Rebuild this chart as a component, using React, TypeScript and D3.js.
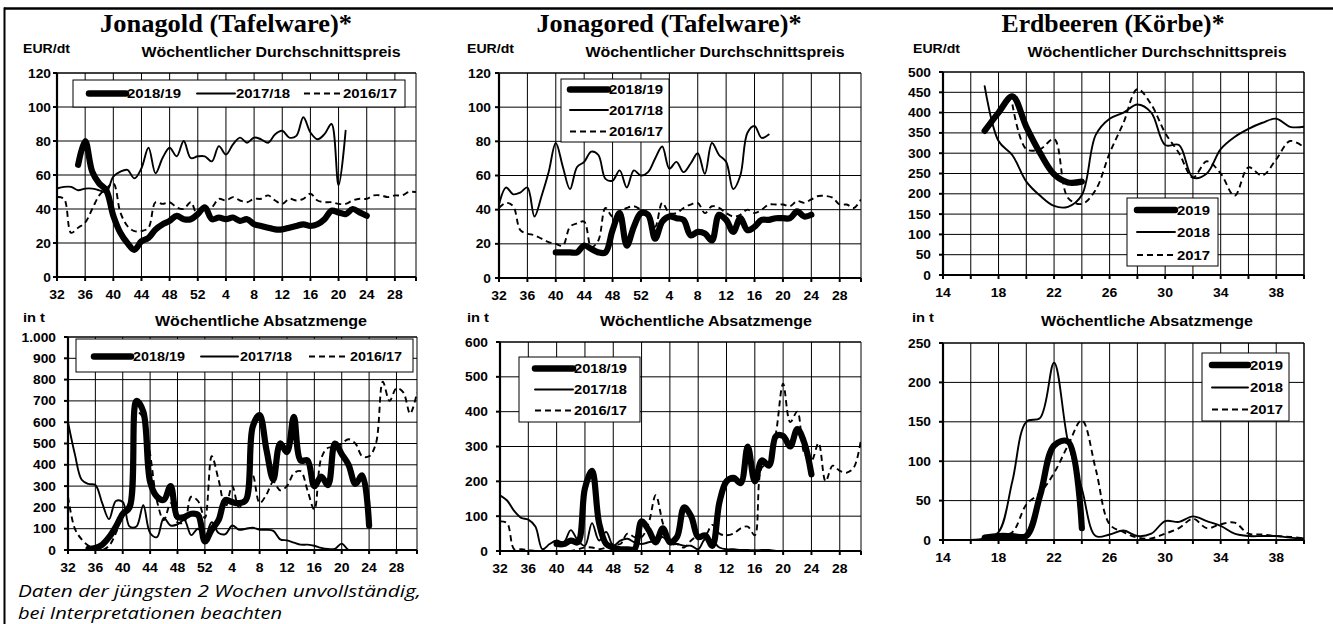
import React from 'react';
import * as d3 from 'd3';

const N = null;

// ---------- categories ----------
const appleWeeks = [32, 33, 34, 35, 36, 37, 38, 39, 40, 41, 42, 43, 44, 45, 46, 47, 48, 49, 50, 51, 52,
  1, 2, 3, 4, 5, 6, 7, 8, 9, 10, 11, 12, 13, 14, 15, 16, 17, 18, 19, 20, 21, 22, 23, 24, 25, 26, 27, 28, 29, 30, 31];
const appleTickLabels = ['32', '36', '40', '44', '48', '52', '4', '8', '12', '16', '20', '24', '28'];
const strawberryWeeks = [14, 15, 16, 17, 18, 19, 20, 21, 22, 23, 24, 25, 26, 27, 28, 29, 30, 31, 32, 33, 34, 35, 36, 37, 38, 39, 40];
const strawberryTickLabels = ['14', '18', '22', '26', '30', '34', '38'];

const appleSeasons = ['2018/19', '2017/18', '2016/17'];
const strawberryYears = ['2019', '2018', '2017'];

// ---------- Jonagold ----------
const jonagoldPrice1819 = [N, N, N, 66, 80, 62, 55, 51, 36, 26, 20, 16, 21, 23, 28, 31, 33, 36, 34, 34, 37,
  41, 34, 35, 34, 35, 33, 34, 31, 30, 29, 28, 28, 29, 30, 31, 30, 31, 34, 39, 38, 37, 40, 38, 36, N, N, N, N, N, N, N];
const jonagoldPrice1718 = [52, 53, 53, 51, 52, 52, 51, 50, 59, 62, 63, 58, 64, 76, 61, 70, 76, 71, 80, 70, 71,
  71, 68, 77, 72, 78, 82, 79, 82, 81, 79, 84, 86, 82, 83, 94, 85, 81, 84, 90, 54, 86, N, N, N, N, N, N, N, N, N, N];
const jonagoldPrice1617 = [47, 46, 26, 29, 32, 40, 48, 52, 55, 38, 30, 27, 27, 29, 44, 43, 44, 41, 40, 44, 36,
  40, 41, 46, 45, 47, 45, 44, 46, 46, 48, 45, 43, 46, 45, 46, 49, 45, 44, 44, 43, 43, 45, 46, 46, 48, 48, 47, 48, 48, 50, 50];

const jonagoldVolume1819 = [N, N, N, 5, 10, 25, 60, 110, 170, 200, 700, 650, 320, 250, 235, 300, 155, 155, 170, 165, 40,
  95, 140, 235, 225, 220, 235, 580, 633, 470, 330, 500, 460, 625, 420, 420, 300, 345, 305, 500, 450, 400, 310, 350, 115, N, N, N, N, N, N, N];
const jonagoldVolume1718 = [600, 450, 330, 310, 305, 220, 145, 230, 225, 110, 110, 210, 80, 60, 150, 115, 120, 140, 70, 100, 60,
  130, 80, 75, 115, 95, 100, 105, 95, 95, 90, 50, 45, 35, 25, 25, 20, 10, 5, 5, 30, 0, 0, 0, 0, N, N, N, N, N, N, N];
const jonagoldVolume1617 = [250, 100, 50, 20, 5, 0, 20, 80, 170, 230, 650, 620, 450, 230, 140, 220, 130, 130, 250, 230, 150,
  440, 330, 200, 300, 200, 240, 350, 220, 260, 320, 280, 300, 360, 370, 280, 190, 430, 480, 480, 500, 520, 500, 440, 440, 500, 790, 700, 760, 740, 640, 740];

// ---------- Jonagored ----------
const jonagoredPrice1819 = [N, N, N, N, N, N, N, N, 15, 15, 15, 15, 19, 17, 15, 15, 28, 38, 19, 30, 38,
  37, 23, 33, 36, 35, 34, 25, 27, 26, 22, 37, 34, 27, 35, 28, 30, 34, 34, 35, 35, 35, 39, 36, 37, N, N, N, N, N, N, N];
const jonagoredPrice1718 = [43, 53, 49, 50, 53, 36, 48, 62, 79, 65, 52, 65, 68, 74, 72, 58, 57, 63, 53, 63, 60,
  62, 70, 77, 64, 68, 62, 67, 73, 61, 79, 72, 68, 52, 60, 85, 89, 82, 84, N, N, N, N, N, N, N, N, N, N, N, N, N];
const jonagoredPrice1617 = [41, 44, 42, 28, 26, 25, 23, 21, 20, 19, 30, 32, 33, 18, 22, 41, 36, 39, 41, 42, 40,
  38, 30, 44, 38, 38, 41, 43, 44, 38, 42, 41, 38, 36, 37, 40, 38, 40, 43, 43, 43, 42, 45, 44, 46, 48, 48, 47, 43, 43, 41, 46];

const jonagoredVolume1819 = [N, N, N, N, N, N, N, N, 20, 20, 30, 25, 180, 230, 80, 20, 10, 5, 5, 5, 85,
  60, 25, 65, 25, 40, 125, 100, 40, 45, 15, 140, 200, 210, 195, 300, 200, 260, 245, 330, 330, 300, 350, 310, 220, N, N, N, N, N, N, N];
const jonagoredVolume1718 = [160, 145, 115, 95, 90, 70, 5, 20, 30, 25, 60, 30, 15, 80, 30, 55, 15, 30, 35, 25, 20,
  25, 30, 40, 20, 20, 15, 15, 5, 35, 30, 10, 5, 5, 3, 3, 2, 3, 3, 0, 0, 0, 0, 0, 0, N, N, N, N, N, N, N];
const jonagoredVolume1617 = [85, 80, 5, 5, 3, 0, 0, 0, 0, 0, 0, 5, 10, 10, 5, 10, 20, 20, 50, 40, 40,
  80, 160, 80, 20, 20, 10, 30, 45, 45, 75, 50, 45, 50, 65, 70, 45, 240, 250, 340, 480, 370, 400, 280, 260, 310, 200, 245, 230, 225, 240, 320];

// ---------- Erdbeeren ----------
const erdbeerPrice2019 = [N, N, N, 355, 400, 440, 365, 300, 248, 228, 230, N, N, N, N, N, N, N, N, N, N, N, N, N, N, N, N];
const erdbeerPrice2018 = [N, N, N, 465, 330, 295, 230, 195, 170, 168, 197, 345, 385, 400, 420, 400, 320, 320, 240, 250, 310, 340, 360, 375, 385, 365, 365];
const erdbeerPrice2017 = [N, N, N, N, N, 420, 310, 310, 335, 190, 175, 210, 300, 375, 458, 420, 350, 300, 240, 280, 250, 195, 265, 245, 285, 330, 315];

const erdbeerVolume2019 = [N, N, N, 3, 5, 5, 5, 57, 120, 125, 15, N, N, N, N, N, N, N, N, N, N, N, N, N, N, N, N];
const erdbeerVolume2018 = [N, N, 0, 2, 10, 75, 150, 155, 225, 125, 65, 5, 7, 12, 5, 8, 24, 23, 30, 24, 18, 8, 5, 5, 5, 3, 2];
const erdbeerVolume2017 = [N, N, N, N, 5, 10, 45, 60, 85, 120, 152, 90, 20, 10, 3, 2, 8, 15, 27, 15, 20, 22, 8, 7, 5, 4, 2];

// ---------- helpers ----------
const SANS = "'Liberation Sans', Arial, Helvetica, sans-serif";
const SERIF = "'Liberation Serif', 'Times New Roman', serif";
const deFormat = d3.formatLocale({ decimal: ',', thousands: '.', grouping: [3], currency: ['', ' €'] }).format(',');

const KIND_STYLE: Record<string, { w: number; dash?: string }> = {
  thick: { w: 6.2 },
  thin: { w: 1.9 },
  dash: { w: 1.9, dash: '6 4' },
};
const KINDS = ['thick', 'thin', 'dash'];

type LegendCfg = {
  box: [number, number, number, number];
  items: { x1: number; x2: number; ly: number; tx: number; tw: number }[];
};

type PanelCfg = {
  id: string;
  l: number; r: number; t: number; b: number;
  xs: number[];
  xDomain: [number, number];
  gridX: number[];
  labelX: { v: number; label: string }[];
  yMax: number; yStep: number; yFmt: (n: number) => string;
  yGap: number;
  series: (number | null)[][];
  names: string[];
  legend: LegendCfg;
};

function Panel({ cfg }: { cfg: PanelCfg }) {
  const x = d3.scaleLinear().domain(cfg.xDomain).range([cfg.l, cfg.r]);
  const y = d3.scaleLinear().domain([0, cfg.yMax]).range([cfg.b, cfg.t]);
  const yTicks = d3.range(0, cfg.yMax + 1e-6, cfg.yStep);
  const line = d3.line<number | null>()
    .defined((d) => d != null)
    .x((_d, i) => x(cfg.xs[i]))
    .y((d) => y(d as number))
    .curve(d3.curveCatmullRom.alpha(0.5));
  const clipId = `clip-${cfg.id}`;
  const lg = cfg.legend;
  return (
    <g>
      <defs>
        <clipPath id={clipId}>
          <rect x={cfg.l} y={cfg.t - 1} width={cfg.r - cfg.l} height={cfg.b - cfg.t + 1} />
        </clipPath>
      </defs>
      {yTicks.map((v) => (
        <line key={'gy' + v} x1={cfg.l} x2={cfg.r} y1={y(v)} y2={y(v)} stroke="#000" strokeWidth={1} />
      ))}
      {cfg.gridX.map((v) => (
        <line key={'gx' + v} x1={x(v)} x2={x(v)} y1={cfg.t} y2={cfg.b} stroke="#000" strokeWidth={1} />
      ))}
      <line x1={cfg.r} x2={cfg.r} y1={cfg.t} y2={cfg.b} stroke="#000" strokeWidth={1} />
      <line x1={cfg.l} x2={cfg.r} y1={cfg.t} y2={cfg.t} stroke="#000" strokeWidth={1} />
      <g clipPath={`url(#${clipId})`}>
        {cfg.series.map((vals, si) => {
          const st = KIND_STYLE[KINDS[si]];
          return (
            <path key={'s' + si} d={line(vals) || ''} fill="none" stroke="#000" strokeWidth={st.w}
              strokeDasharray={st.dash} strokeLinejoin="round" strokeLinecap={st.dash ? 'butt' : 'round'} />
          );
        })}
      </g>
      <line x1={cfg.l} x2={cfg.l} y1={cfg.t} y2={cfg.b + 1} stroke="#000" strokeWidth={2.2} />
      <line x1={cfg.l - 1} x2={cfg.r} y1={cfg.b} y2={cfg.b} stroke="#000" strokeWidth={2.2} />
      {yTicks.map((v) => (
        <g key={'ty' + v}>
          <line x1={cfg.l - 4} x2={cfg.l} y1={y(v)} y2={y(v)} stroke="#000" strokeWidth={2} />
          <text transform={`translate(${cfg.l - cfg.yGap},${y(v) + 4.5}) scale(1.1,1)`} textAnchor="end"
            fontFamily={SANS} fontWeight="bold" fontSize={12.5}>{cfg.yFmt(v)}</text>
        </g>
      ))}
      {cfg.gridX.map((v) => (
        <line key={'tx' + v} x1={x(v)} x2={x(v)} y1={cfg.b} y2={cfg.b + 4} stroke="#000" strokeWidth={2} />
      ))}
      <line x1={cfg.r} x2={cfg.r} y1={cfg.b} y2={cfg.b + 4} stroke="#000" strokeWidth={2} />
      {cfg.labelX.map((o) => (
        <text key={'lx' + o.label} transform={`translate(${x(o.v)},${cfg.b + 22}) scale(1.12,1)`} textAnchor="middle"
          fontFamily={SANS} fontWeight="bold" fontSize={12.5}>{o.label}</text>
      ))}
      <rect x={lg.box[0]} y={lg.box[1]} width={lg.box[2]} height={lg.box[3]} fill="#fff" stroke="#000" strokeWidth={1} />
      {lg.items.map((it, i) => {
        const st = KIND_STYLE[KINDS[i]];
        return (
          <g key={'lg' + i}>
            <line x1={it.x1} x2={it.x2} y1={it.ly} y2={it.ly} stroke="#000" strokeWidth={i === 0 ? 6.5 : st.w}
              strokeDasharray={st.dash} strokeLinecap={st.dash ? 'butt' : 'round'} />
            <text x={it.tx} y={it.ly + 4.5} fontFamily={SANS} fontWeight="bold" fontSize={12.5}
              textLength={it.tw} lengthAdjust="spacingAndGlyphs">{cfg.names[i]}</text>
          </g>
        );
      })}
    </g>
  );
}

const appleIdx = appleWeeks.map((_w, i) => i);
const appleGrid = appleTickLabels.map((l) => appleWeeks.indexOf(+l));
const appleLabels = appleTickLabels.map((l) => ({ v: appleWeeks.indexOf(+l), label: l }));
const sbGrid = strawberryWeeks.filter((w) => w % 2 === 0);
const sbLabels = strawberryTickLabels.map((l) => ({ v: +l, label: l }));
const intFmt = (n: number) => String(n);

const hLegend = (x: number, y: number, w: number, h: number, xs: [number, number, number][], ly: number, tw: number): LegendCfg => ({
  box: [x, y, w, h],
  items: xs.map(([x1, x2, tx]) => ({ x1, x2, ly, tx, tw })),
});
const vLegend = (x: number, y: number, w: number, h: number, x1: number, x2: number, tx: number, rows: number[], tw: number): LegendCfg => ({
  box: [x, y, w, h],
  items: rows.map((ly) => ({ x1, x2, ly, tx, tw })),
});

const panels: PanelCfg[] = [
  {
    id: 'p1t', l: 57, r: 416, t: 73, b: 277, xs: appleIdx, xDomain: [0, 51], gridX: appleGrid, labelX: appleLabels,
    yMax: 120, yStep: 20, yFmt: intFmt, yGap: 6,
    series: [jonagoldPrice1819, jonagoldPrice1718, jonagoldPrice1617], names: appleSeasons,
    legend: hLegend(73, 80, 332, 27, [[89, 126, 127], [197, 235, 236], [304, 342, 343]], 93.5, 54),
  },
  {
    id: 'p1b', l: 68, r: 417, t: 337, b: 550, xs: appleIdx, xDomain: [0, 51], gridX: appleGrid, labelX: appleLabels,
    yMax: 1000, yStep: 100, yFmt: deFormat, yGap: 12,
    series: [jonagoldVolume1819, jonagoldVolume1718, jonagoldVolume1617], names: appleSeasons,
    legend: hLegend(76, 339, 337, 33, [[94, 131, 133], [201, 238, 240], [309, 348, 350]], 356.5, 52),
  },
  {
    id: 'p2t', l: 499, r: 861, t: 73, b: 278, xs: appleIdx, xDomain: [0, 51], gridX: appleGrid, labelX: appleLabels,
    yMax: 120, yStep: 20, yFmt: intFmt, yGap: 8,
    series: [jonagoredPrice1819, jonagoredPrice1718, jonagoredPrice1617], names: appleSeasons,
    legend: vLegend(561, 79, 108, 63, 570, 608, 609, [89.5, 110, 131.5], 54),
  },
  {
    id: 'p2b', l: 500, r: 861, t: 342, b: 551, xs: appleIdx, xDomain: [0, 51], gridX: appleGrid, labelX: appleLabels,
    yMax: 600, yStep: 100, yFmt: intFmt, yGap: 12,
    series: [jonagoredVolume1819, jonagoredVolume1718, jonagoredVolume1617], names: appleSeasons,
    legend: vLegend(519, 357, 121, 65, 535, 573, 574, [368.5, 389.5, 410.5], 53),
  },
  {
    id: 'p3t', l: 943, r: 1304, t: 72, b: 275, xs: strawberryWeeks, xDomain: [14, 40], gridX: sbGrid, labelX: sbLabels,
    yMax: 500, yStep: 50, yFmt: intFmt, yGap: 12,
    series: [erdbeerPrice2019, erdbeerPrice2018, erdbeerPrice2017], names: strawberryYears,
    legend: vLegend(1127, 198, 91, 68, 1137, 1175, 1177, [210, 232, 255], 33),
  },
  {
    id: 'p3b', l: 943, r: 1304, t: 343, b: 540, xs: strawberryWeeks, xDomain: [14, 40], gridX: sbGrid, labelX: sbLabels,
    yMax: 250, yStep: 50, yFmt: intFmt, yGap: 12,
    series: [erdbeerVolume2019, erdbeerVolume2018, erdbeerVolume2017], names: strawberryYears,
    legend: vLegend(1202, 353, 87, 68, 1212, 1248, 1250, [365, 387.5, 409.5], 33),
  },
];

const titles = [
  { text: 'Jonagold (Tafelware)*', cx: 226, w: 252 },
  { text: 'Jonagored (Tafelware)*', cx: 669, w: 265 },
  { text: 'Erdbeeren (Körbe)*', cx: 1113, w: 223 },
];
const priceHeads = [
  { unitX: 23, cx: 271 },
  { unitX: 467, cx: 715 },
  { unitX: 913, cx: 1157 },
];
const volumeHeads = [
  { unitX: 23, cx: 261 },
  { unitX: 467, cx: 706 },
  { unitX: 912, cx: 1147 },
];

export default function App() {
  return (
    <svg width={1333} height={624} viewBox="0 0 1333 624"
      style={{ position: 'absolute', left: 0, top: 0, background: '#fff' }}>
      <rect x={0} y={0} width={1333} height={624} fill="#fff" />
      <line x1={4} x2={1333} y1={8.5} y2={8.5} stroke="#000" strokeWidth={2.5} />
      <line x1={4.5} x2={4.5} y1={7.5} y2={624} stroke="#000" strokeWidth={2} />
      {titles.map((t) => (
        <text key={t.text} x={t.cx} y={32} textAnchor="middle" fontFamily={SERIF} fontWeight="bold" fontSize={25}
          textLength={t.w} lengthAdjust="spacingAndGlyphs">{t.text}</text>
      ))}
      {priceHeads.map((h, i) => (
        <g key={'ph' + i}>
          <text x={h.unitX} y={53} fontFamily={SANS} fontWeight="bold" fontSize={12} textLength={47}
            lengthAdjust="spacingAndGlyphs">EUR/dt</text>
          <text x={h.cx} y={57} textAnchor="middle" fontFamily={SANS} fontWeight="bold" fontSize={14}
            textLength={259} lengthAdjust="spacingAndGlyphs">Wöchentlicher Durchschnittspreis</text>
        </g>
      ))}
      {volumeHeads.map((h, i) => (
        <g key={'vh' + i}>
          <text x={h.unitX} y={322} fontFamily={SANS} fontWeight="bold" fontSize={12} textLength={22}
            lengthAdjust="spacingAndGlyphs">in t</text>
          <text x={h.cx} y={326} textAnchor="middle" fontFamily={SANS} fontWeight="bold" fontSize={14}
            textLength={212} lengthAdjust="spacingAndGlyphs">Wöchentliche Absatzmenge</text>
        </g>
      ))}
      {panels.map((p) => <Panel key={p.id} cfg={p} />)}
      <text x={18} y={597} fontFamily="'Open Sans', 'Noto Sans', sans-serif" fontStyle="italic" fontSize={17}
        textLength={403} lengthAdjust="spacingAndGlyphs">Daten der jüngsten 2 Wochen unvollständig,</text>
      <text x={18} y={619} fontFamily="'Open Sans', 'Noto Sans', sans-serif" fontStyle="italic" fontSize={16}
        textLength={264} lengthAdjust="spacingAndGlyphs">bei Interpretationen beachten</text>
    </svg>
  );
}
